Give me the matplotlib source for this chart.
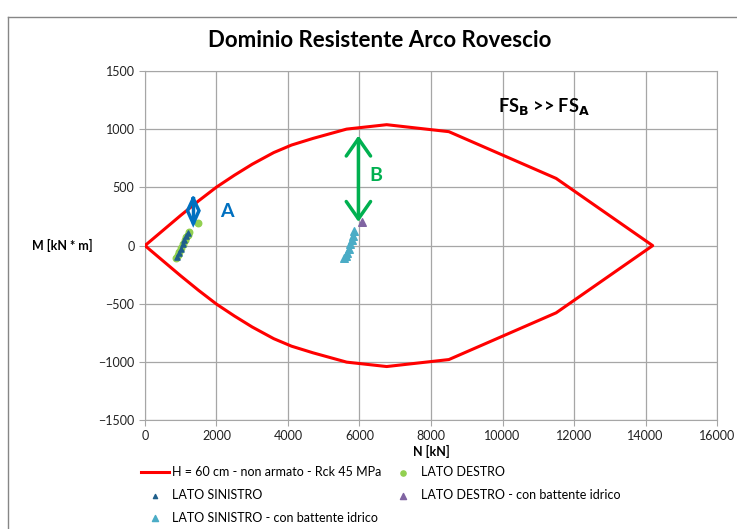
import numpy as np
import matplotlib
matplotlib.use('Agg')
import matplotlib.pyplot as plt
from matplotlib.patches import FancyArrowPatch
from matplotlib.lines import Line2D

plt.rcParams['font.family'] = ['Lato', 'DejaVu Sans']

# interaction domain (upper branch, lower branch is symmetric)
dom_N = [0, 500, 1000, 1500, 2000, 2500, 3000, 3600, 4100, 4700, 5640, 6760, 8500, 11500, 14200]
dom_M = [0, 130, 260, 385, 503, 605, 700, 800, 865, 922, 1002, 1040, 980, 578, 0]

# LATO DESTRO
dx_N = [880, 920, 960, 1010, 1060, 1110, 1160, 1200, 1230, 1490]
dx_M = [-110, -85, -55, -20, 15, 45, 75, 95, 115, 195]
# LATO SINISTRO
sx_N = [900, 950, 1000, 1050, 1100, 1150, 1200]
sx_M = [-100, -65, -30, 10, 45, 80, 105]
# LATO DESTRO - con battente idrico
dxb_N = [6060]
dxb_M = [200]
# LATO SINISTRO - con battente idrico
sxb_N = [5560, 5610, 5660, 5700, 5740, 5780, 5820, 5860]
sxb_M = [-110, -90, -60, -25, 10, 45, 85, 125]

N_curve = dom_N + dom_N[::-1][1:]
M_curve = dom_M + [-m for m in dom_M[::-1][1:]]

fig = plt.figure(figsize=(7.37, 5.29), dpi=100)
ax = fig.add_axes([0.1967, 0.206, 0.7762, 0.6594])

ax.plot(N_curve, M_curve, color='#FF0000', lw=2.2, zorder=3,
        label='H = 60 cm - non armato - Rck 45 MPa')
ax.scatter(dx_N, dx_M, color='#92D050', marker='o', s=22, zorder=4, label='LATO DESTRO')
ax.scatter(sx_N, sx_M, color='#1F5F8B', marker='^', s=14, zorder=5, label='LATO SINISTRO')
ax.scatter(dxb_N, dxb_M, color='#8064A2', marker='^', s=30, zorder=4,
           label='LATO DESTRO - con battente idrico')
ax.scatter(sxb_N, sxb_M, color='#4BACC6', marker='^', s=30, zorder=4,
           label='LATO SINISTRO - con battente idrico')

# arrow A (very short double arrow -> looks like a diamond)
ax.plot([1350, 1190, 1350, 1510, 1350], [405, 300, 190, 300, 405], color='#0070C0', lw=2.5,
        zorder=6, solid_joinstyle='miter')
ax.plot([1350, 1350], [200, 395], color='#0070C0', lw=2.5, zorder=6)
# arrow B
ax.add_patch(FancyArrowPatch((5970, 180), (5970, 970), arrowstyle='<->,head_length=5,head_width=3.5',
                             color='#00B050', lw=2.5, zorder=6, mutation_scale=2.5))
ax.text(2300, 290, 'A', color='#0070C0', fontsize=14, fontweight='bold', ha='center', va='center')
ax.text(6450, 600, 'B', color='#00B050', fontsize=14, fontweight='bold', ha='center', va='center')
ax.text(11150, 1195, r'FS$_\mathbf{B}$ >> FS$_\mathbf{A}$', fontsize=13, fontweight='bold',
        ha='center', va='center')

ax.set_xlim(0, 16000)
ax.set_ylim(-1500, 1500)
ax.set_xticks(np.arange(0, 16001, 2000))
ax.set_yticks(np.arange(-1500, 1501, 500))
ax.grid(True, color='#A6A6A6', lw=0.9)
ax.set_axisbelow(True)
for s in ax.spines.values():
    s.set_color('#A6A6A6')
ax.tick_params(labelsize=9, color='#A6A6A6', length=4, labelcolor='#222222')

ax.set_xlabel('N [kN]', fontsize=9, fontweight='bold', labelpad=2)
fig.text(62 / 737, 1 - 245 / 529, 'M [kN * m]', fontsize=9, fontweight='bold', ha='center', va='center')
fig.text(380 / 737, 1 - 40 / 529, 'Dominio Resistente Arco Rovescio', fontsize=16,
         fontweight='bold', ha='center', va='center')

# outer chart border
fig.add_artist(Line2D([8 / 737, 8 / 737], [0, 1 - 17 / 529], color='#868686', lw=1.0))
fig.add_artist(Line2D([8 / 737, 1], [1 - 17 / 529, 1 - 17 / 529], color='#868686', lw=1.0))

h, l = ax.get_legend_handles_labels()
order = [0, 2, 4, 1, 3]
fig.legend([h[i] for i in order], [l[i] for i in order], ncol=2, loc='upper left',
           bbox_to_anchor=(130 / 737, 1 - 455 / 529), frameon=False, fontsize=9,
           handlelength=2.2, columnspacing=0.6, labelspacing=0.85, handletextpad=0.3,
           markerscale=0.8)

fig.savefig('out.png', dpi=100)
